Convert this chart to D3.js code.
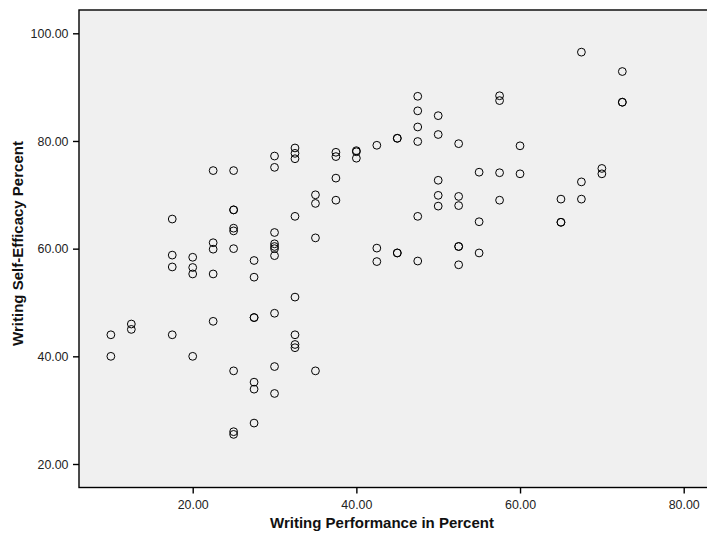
<!DOCTYPE html>
<html>
<head>
<meta charset="utf-8">
<script src="https://cdn.jsdelivr.net/npm/d3@7"></script>
<style>
  html, body { margin: 0; padding: 0; background: #ffffff; overflow: hidden; }
  svg { display: block; font-family: Arial, "Liberation Sans", sans-serif; }
</style>
</head>
<body>
<svg id="chart" width="707" height="533"></svg>
<script>
// Writing Performance in Percent (x) and Writing Self-Efficacy Percent (y)
const performance = [
  10, 10,
  12.5, 12.5,
  17.5, 17.5, 17.5, 17.5,
  20, 20, 20, 20,
  22.5, 22.5, 22.5, 22.5, 22.5,
  25, 25, 25, 25, 25, 25, 25, 25, 25,
  27.5, 27.5, 27.5, 27.5, 27.5, 27.5, 27.5,
  30, 30, 30, 30, 30, 30, 30, 30, 30, 30,
  32.5, 32.5, 32.5, 32.5, 32.5, 32.5, 32.5, 32.5,
  35, 35, 35, 35,
  37.5, 37.5, 37.5, 37.5,
  40, 40, 40,
  42.5, 42.5, 42.5,
  45, 45, 45, 45,
  47.5, 47.5, 47.5, 47.5, 47.5, 47.5,
  50, 50, 50, 50, 50,
  52.5, 52.5, 52.5, 52.5, 52.5, 52.5,
  55, 55, 55,
  57.5, 57.5, 57.5, 57.5,
  60, 60,
  65, 65, 65,
  67.5, 67.5, 67.5,
  70, 70,
  72.5, 72.5, 72.5
];
const selfEfficacy = [
  44.0, 40.0,
  46.0, 45.0,
  65.5, 58.8, 56.6, 44.0,
  58.4, 56.5, 55.3, 40.0,
  74.5, 61.1, 59.9, 55.3, 46.5,
  74.5, 67.2, 67.2, 63.8, 63.3, 60.0, 37.3, 26.0, 25.5,
  57.8, 54.7, 47.2, 47.2, 35.2, 33.9, 27.6,
  77.2, 75.1, 63.0, 60.9, 60.4, 60.0, 58.7, 48.0, 38.1, 33.1,
  78.7, 77.7, 76.7, 66.0, 51.0, 44.0, 42.2, 41.6,
  70.0, 68.4, 62.0, 37.3,
  77.9, 77.1, 73.1, 69.0,
  78.2, 78.0, 76.8,
  79.2, 60.1, 57.6,
  80.5, 80.5, 59.2, 59.2,
  88.3, 85.6, 82.6, 79.9, 66.0, 57.7,
  84.7, 81.2, 72.7, 69.9, 67.9,
  79.5, 69.7, 68.0, 60.4, 60.4, 57.0,
  74.2, 65.0, 59.2,
  88.4, 87.5, 74.1, 69.0,
  79.1, 73.9,
  69.2, 64.9, 64.9,
  96.5, 72.4, 69.2,
  74.9, 73.9,
  92.9, 87.2, 87.2
];
const xTicks = [20, 40, 60, 80];
const yTicks = [20, 40, 60, 80, 100];
const xTitle = "Writing Performance in Percent";
const yTitle = "Writing Self-Efficacy Percent";

const svg = d3.select("#chart");
const plot = { left: 79, top: 10, right: 712, bottom: 487.5 };

const x = d3.scaleLinear().domain([20, 80]).range([192.7, 683.7]);
const y = d3.scaleLinear().domain([20, 100]).range([464, 33.3]);

// plot background
svg.append("rect")
  .attr("x", plot.left).attr("y", plot.top)
  .attr("width", plot.right - plot.left).attr("height", plot.bottom - plot.top)
  .attr("fill", "#f0f0f0").attr("stroke", "#000").attr("stroke-width", 1.4);

// axes
const xAxis = svg.append("g")
  .attr("transform", `translate(0,${plot.bottom})`)
  .call(d3.axisBottom(x).tickValues(xTicks).tickFormat(d3.format(".2f")).tickSize(6).tickSizeOuter(0));
const yAxis = svg.append("g")
  .attr("transform", `translate(${plot.left},0)`)
  .call(d3.axisLeft(y).tickValues(yTicks).tickFormat(d3.format(".2f")).tickSize(6).tickSizeOuter(0));

[xAxis, yAxis].forEach(g => {
  g.select(".domain").remove();
  g.selectAll(".tick line").attr("stroke", "#000").attr("stroke-width", 1.4);
  g.selectAll(".tick text").attr("fill", "#222").attr("font-size", 12.4)
    .attr("font-family", "Arial, 'Liberation Sans', sans-serif");
});
xAxis.selectAll(".tick text").attr("dy", null).attr("y", 21.5);
yAxis.selectAll(".tick text").attr("x", -10.5).attr("dy", "0.35em");

// points
const pts = performance.map((p, i) => ({ p, s: selfEfficacy[i] }));
svg.append("g").selectAll("circle").data(pts).join("circle")
  .attr("cx", d => x(d.p))
  .attr("cy", d => y(d.s))
  .attr("r", 3.9)
  .attr("fill", "none")
  .attr("stroke", "#000")
  .attr("stroke-width", 1);

// titles
svg.append("text")
  .attr("x", 382).attr("y", 528)
  .attr("text-anchor", "middle")
  .attr("font-size", 15).attr("font-weight", "bold").attr("fill", "#111")
  .text(xTitle);
svg.append("text")
  .attr("transform", "translate(23,243.5) rotate(-90)")
  .attr("text-anchor", "middle")
  .attr("font-size", 15).attr("font-weight", "bold").attr("fill", "#111")
  .text(yTitle);
</script>
</body>
</html>
